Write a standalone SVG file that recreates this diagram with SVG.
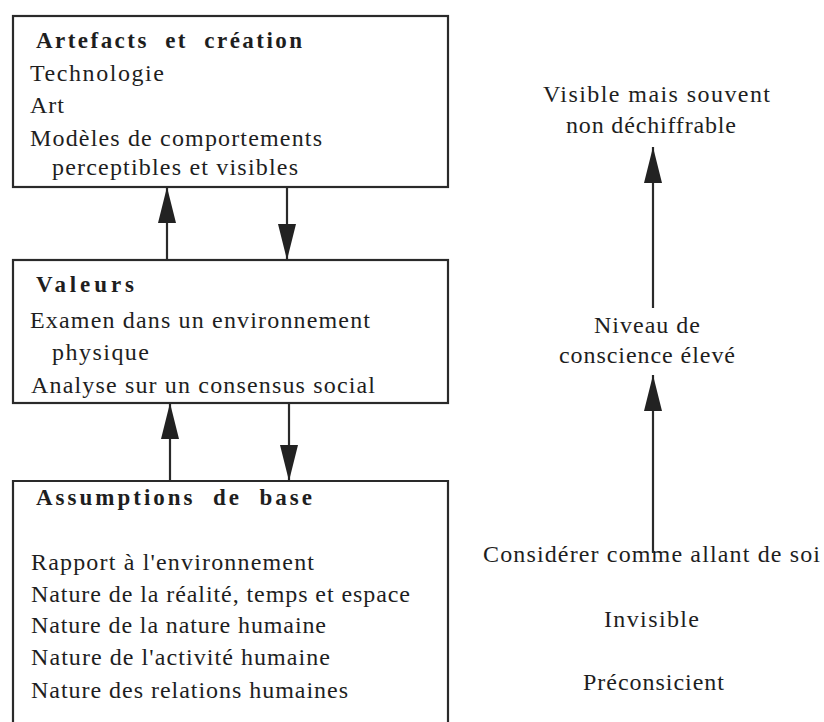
<svg xmlns="http://www.w3.org/2000/svg" width="824" height="722" viewBox="0 0 824 722">
<style>
.box{fill:none;stroke:#2a2a2a;stroke-width:2.2}
.ln{stroke:#2a2a2a;stroke-width:2.2;fill:none;marker-end:url(#ah)}
</style>
<defs>
<marker id="ah" viewBox="0 0 36 18" refX="36" refY="9" markerWidth="36" markerHeight="18" markerUnits="userSpaceOnUse" orient="auto">
<path d="M0,0 L36,9 L0,18 z" fill="#222"/>
</marker>
</defs>
<rect width="824" height="722" fill="#fff"/>
<g font-family="Liberation Serif, Times New Roman, serif" font-size="24" fill="#1e1e1e">
<g id="artefacts">
<rect class="box" x="13" y="16" width="435" height="171"/>
<text font-weight="bold" font-size="23" x="36" y="48" textLength="266" lengthAdjust="spacing" xml:space="preserve">Artefacts  et  création</text>
<text x="30" y="81" textLength="134" lengthAdjust="spacing">Technologie</text>
<text x="30" y="113" textLength="34" lengthAdjust="spacing">Art</text>
<text x="30" y="146" textLength="292" lengthAdjust="spacing">Modèles de comportements</text>
<text x="52" y="175" textLength="246" lengthAdjust="spacing">perceptibles et visibles</text>
</g>
<g id="valeurs">
<rect class="box" x="13" y="260" width="435" height="143"/>
<text font-weight="bold" font-size="23" x="36" y="292" textLength="98" lengthAdjust="spacing">Valeurs</text>
<text x="30" y="328" textLength="340" lengthAdjust="spacing">Examen dans un environnement</text>
<text x="52" y="360" textLength="97" lengthAdjust="spacing">physique</text>
<text x="31" y="393" textLength="344" lengthAdjust="spacing">Analyse sur un consensus social</text>
</g>
<g id="assumptions">
<path class="box" d="M13,730 V481 H448 V730"/>
<text font-weight="bold" font-size="23" x="36" y="505" textLength="276" lengthAdjust="spacing" xml:space="preserve">Assumptions  de  base</text>
<text x="31" y="570" textLength="283" lengthAdjust="spacing">Rapport à l'environnement</text>
<text x="31" y="602" textLength="379" lengthAdjust="spacing">Nature de la réalité, temps et espace</text>
<text x="31" y="633" textLength="295" lengthAdjust="spacing">Nature de la nature humaine</text>
<text x="31" y="665" textLength="299" lengthAdjust="spacing">Nature de l'activité humaine</text>
<text x="31" y="698" textLength="317" lengthAdjust="spacing">Nature des relations humaines</text>
</g>
<g id="visible">
<text x="543" y="102" textLength="227" lengthAdjust="spacing">Visible mais souvent</text>
<text x="566" y="133" textLength="170" lengthAdjust="spacing">non déchiffrable</text>
</g>
<g id="niveau">
<text x="594" y="333" textLength="106" lengthAdjust="spacing">Niveau de</text>
<text x="559" y="363" textLength="176" lengthAdjust="spacing">conscience élevé</text>
</g>
<g id="considerer">
<text x="483" y="562" textLength="337" lengthAdjust="spacing">Considérer comme allant de soi</text>
</g>
<g id="invisible">
<text x="604" y="627" textLength="95" lengthAdjust="spacing">Invisible</text>
</g>
<g id="preconscient">
<text x="583" y="690" textLength="141" lengthAdjust="spacing">Préconsicient</text>
</g>
</g>
<g id="connectors">
<line class="ln" x1="167" y1="260" x2="167" y2="187"/>
<line class="ln" x1="287" y1="187" x2="287" y2="260"/>
<line class="ln" x1="170" y1="481" x2="170" y2="403"/>
<line class="ln" x1="289" y1="403" x2="289" y2="481"/>
<line class="ln" x1="653" y1="308" x2="653" y2="147"/>
<line class="ln" x1="653" y1="553" x2="653" y2="375"/>
</g>
</svg>
